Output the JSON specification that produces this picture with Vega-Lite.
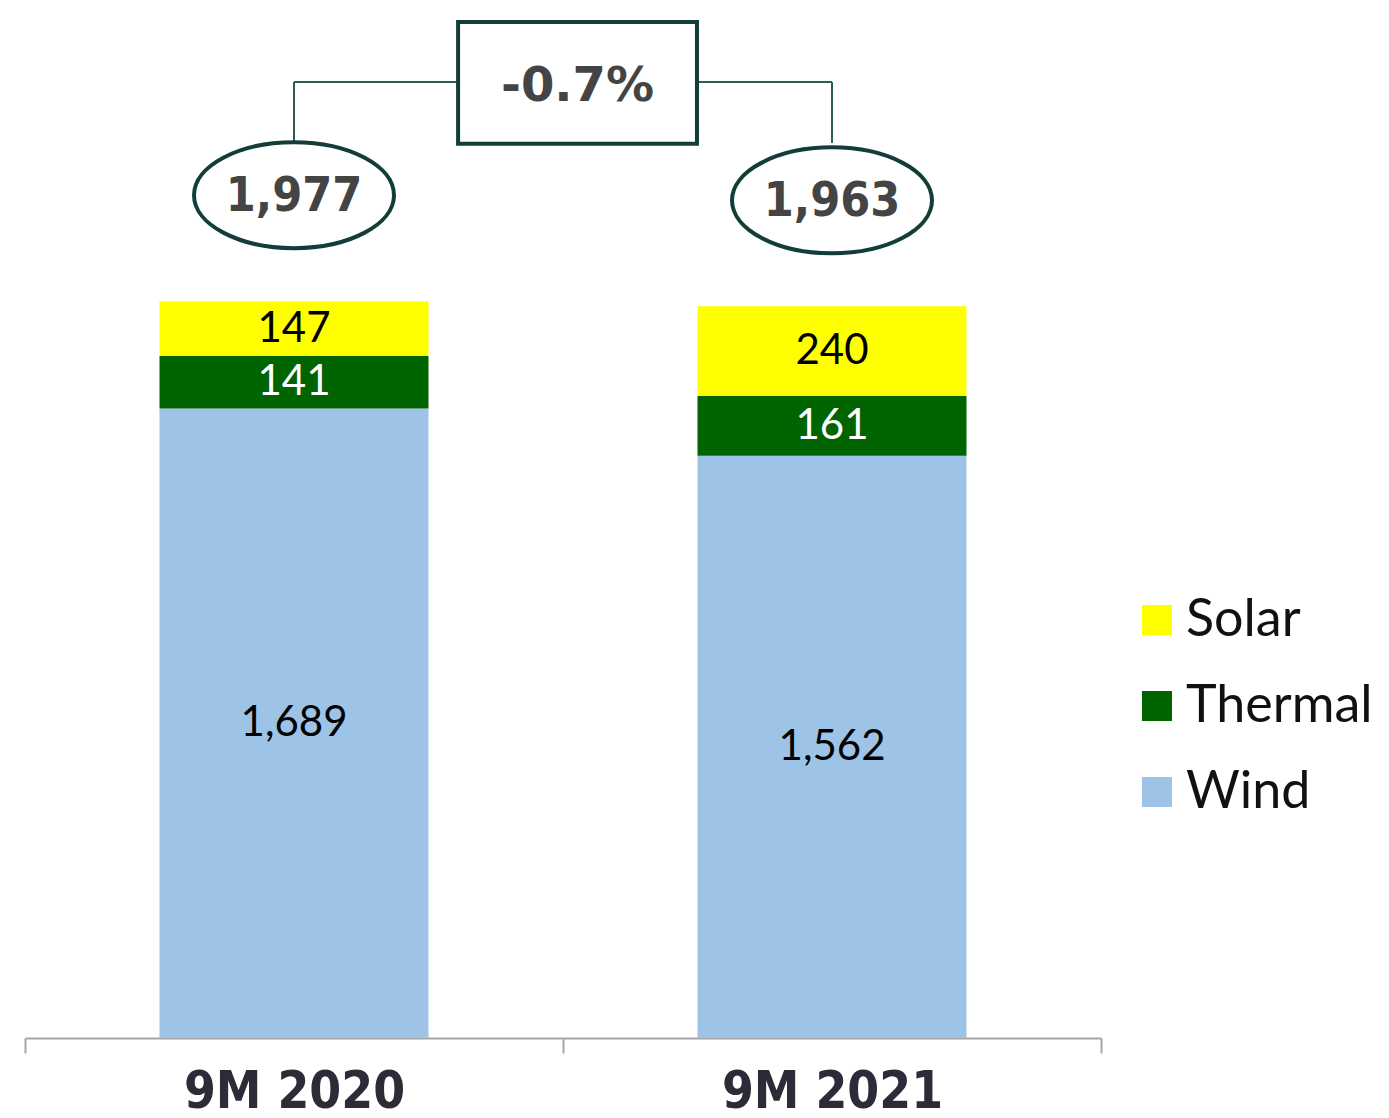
{
  "$schema": "https://vega.github.io/schema/vega-lite/v6.json",
  "width": 1076,
  "height": 1038,
  "autosize": {"type": "none"},
  "padding": {"left": 25, "top": 0, "right": 288, "bottom": 80},
  "background": "white",
  "config": {"view": {"stroke": null}},
  "datasets": {
    "segments": [
      {"period": "9M 2020", "source": "Wind", "value": 1689},
      {"period": "9M 2020", "source": "Thermal", "value": 141},
      {"period": "9M 2020", "source": "Solar", "value": 147},
      {"period": "9M 2021", "source": "Wind", "value": 1562},
      {"period": "9M 2021", "source": "Thermal", "value": 161},
      {"period": "9M 2021", "source": "Solar", "value": 240}
    ],
    "totals": [
      {"period": "9M 2020", "total": 1977},
      {"period": "9M 2021", "total": 1963}
    ],
    "change": [{"label": "-0.7%"}]
  },
  "layer": [
    {
      "layer": [
        {
          "data": {"name": "segments"},
          "transform": [{"stack": "value", "groupby": ["period"], "sort": [{"field": "source", "order": "descending"}], "as": ["v0", "v1"]}],
          "mark": {"type": "bar", "strokeWidth": 0, "width": {"band": 0.5}},
          "encoding": {
            "x": {
              "field": "period", "type": "nominal",
              "scale": {"paddingInner": 0, "paddingOuter": 0},
              "axis": {
                "title": null, "labelAngle": 0, "labelLimit": 600,
                "labelFont": "DejaVu Sans Condensed", "labelFontWeight": "bold", "labelFontSize": 51,
                "labelColor": "#2e2b38", "labelPadding": 14,
                "domainColor": "#a6a6a6", "domainWidth": 2,
                "ticks": true, "tickBand": "extent", "tickSize": 15, "tickColor": "#a6a6a6", "tickWidth": 2,
                "grid": false
              }
            },
            "y": {"field": "v0", "type": "quantitative", "scale": {"domain": [0, 2785], "nice": false, "zero": true}, "axis": null},
            "y2": {"field": "v1"},
            "color": {
              "field": "source", "type": "nominal",
              "scale": {"domain": ["Solar", "Thermal", "Wind"], "range": ["#FFFF00", "#006400", "#9DC3E6"]},
              "legend": {
                "title": null, "orient": "none", "legendX": 1106, "legendY": 594,
                "symbolType": "square", "symbolSize": 900, "symbolStrokeWidth": 0, "symbolOpacity": 1,
                "labelFont": "Lato", "labelFontSize": 52, "labelColor": "#111111", "labelOffset": 3,
                "labelLimit": 400, "rowPadding": 34, "padding": 0
              }
            }
          }
        },
        {
          "data": {"name": "segments"},
          "transform": [
            {"stack": "value", "groupby": ["period"], "sort": [{"field": "source", "order": "descending"}], "as": ["v0", "v1"]},
            {"fold": ["v0", "v1"], "as": ["edge", "pos"]},
            {"aggregate": [{"op": "mean", "field": "pos", "as": "mid"}], "groupby": ["period", "source", "value"]}
          ],
          "mark": {"type": "text", "font": "Lato", "fontSize": 42, "baseline": "middle"},
          "encoding": {
            "x": {"field": "period", "type": "nominal"},
            "y": {"field": "mid", "type": "quantitative"},
            "text": {"field": "value", "type": "quantitative", "format": ","},
            "color": {"condition": {"test": "datum.source === 'Thermal'", "value": "#ffffff"}, "value": "#000000"}
          }
        },
        {
          "data": {"name": "totals"},
          "mark": {"type": "rule", "color": "#2b5e57", "strokeWidth": 2},
          "encoding": {
            "x": {"field": "period", "type": "nominal"},
            "y": {"datum": 2401, "type": "quantitative"},
            "y2": {"datum": 2565}
          }
        },
        {
          "data": {"name": "totals"},
          "mark": {
            "type": "point",
            "shape": "M-1,0A1,0.53,0,1,1,1,0A1,0.53,0,1,1,-1,0Z",
            "size": 40000, "filled": false, "stroke": "#123d38", "strokeWidth": 4, "opacity": 1,
            "yOffset": -106
          },
          "encoding": {
            "x": {"field": "period", "type": "nominal"},
            "y": {"field": "total", "type": "quantitative"}
          }
        },
        {
          "data": {"name": "totals"},
          "mark": {"type": "text", "font": "DejaVu Sans Condensed", "fontWeight": "bold", "fontSize": 48, "color": "#444444", "baseline": "middle", "yOffset": -104},
          "encoding": {
            "x": {"field": "period", "type": "nominal"},
            "y": {"field": "total", "type": "quantitative"},
            "text": {"field": "total", "type": "quantitative", "format": ","}
          }
        }
      ]
    },
    {
      "layer": [
        {
          "data": {"name": "change"},
          "mark": {"type": "rule", "color": "#2b5e57", "strokeWidth": 2},
          "encoding": {
            "x": {"datum": 0.5, "type": "quantitative", "scale": {"domain": [0, 2], "nice": false, "zero": false}, "axis": null},
            "x2": {"datum": 1.5},
            "y": {"datum": 2565, "type": "quantitative"}
          }
        },
        {
          "data": {"name": "change"},
          "mark": {"type": "rect", "fill": "#ffffff", "stroke": "#123d38", "strokeWidth": 4},
          "encoding": {
            "x": {"datum": 0.805, "type": "quantitative"},
            "x2": {"datum": 1.249},
            "y": {"datum": 2726, "type": "quantitative"},
            "y2": {"datum": 2399}
          }
        },
        {
          "data": {"name": "change"},
          "mark": {"type": "text", "font": "DejaVu Sans", "fontWeight": "bold", "fontSize": 48, "color": "#444444", "baseline": "middle"},
          "encoding": {
            "x": {"datum": 1.027, "type": "quantitative"},
            "y": {"datum": 2552, "type": "quantitative"},
            "text": {"field": "label"}
          }
        }
      ]
    }
  ],
  "resolve": {"scale": {"x": "independent"}, "axis": {"x": "independent"}}
}
